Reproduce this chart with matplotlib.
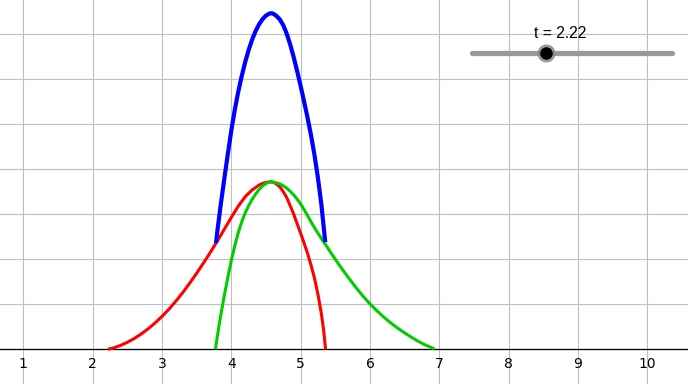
import matplotlib
matplotlib.use("Agg")
import matplotlib.pyplot as plt

# ---- data ----
red_x = [2.22, 2.3, 2.4, 2.5, 2.6, 2.7, 2.8, 2.9, 3.0, 3.1, 3.2, 3.3, 3.4, 3.5, 3.6, 3.7,
         3.8, 3.9, 4.0, 4.1, 4.2, 4.3, 4.4, 4.45, 4.5, 4.55, 4.57, 4.6, 4.65, 4.7, 4.75,
         4.8, 4.85, 4.9, 4.95, 5.0, 5.05, 5.1, 5.15, 5.2, 5.25, 5.3, 5.33, 5.36]
red_y = [0.0, 0.03, 0.085, 0.155, 0.24, 0.34, 0.455, 0.585, 0.73, 0.89, 1.07, 1.26, 1.47, 1.69, 1.92, 2.16,
         2.41, 2.67, 2.93, 3.18, 3.39, 3.54, 3.65, 3.685, 3.708, 3.719, 3.72, 3.715, 3.675, 3.61, 3.50,
         3.37, 3.19, 3.00, 2.79, 2.58, 2.36, 2.13, 1.87, 1.58, 1.22, 0.78, 0.45, 0.0]

green_x = [3.77, 3.8, 3.83, 3.86, 3.9, 3.95, 4.0, 4.05, 4.1, 4.15, 4.2, 4.25, 4.3, 4.35, 4.4,
           4.45, 4.5, 4.55, 4.57, 4.6, 4.65, 4.7, 4.75, 4.8, 4.85, 4.9, 4.95, 5.0, 5.05, 5.1,
           5.2, 5.3, 5.4, 5.5, 5.6, 5.7, 5.8, 5.9, 6.0, 6.1, 6.2, 6.3, 6.4, 6.5, 6.6, 6.7,
           6.8, 6.9, 6.93]
green_y = [0.0, 0.30, 0.59, 0.86, 1.2, 1.60, 1.97, 2.30, 2.59, 2.83, 3.03, 3.19, 3.33, 3.45, 3.55,
           3.63, 3.685, 3.715, 3.72, 3.715, 3.70, 3.675, 3.635, 3.58, 3.51, 3.43, 3.335, 3.23, 3.105, 2.97,
           2.70, 2.46, 2.23, 2.0, 1.78, 1.57, 1.37, 1.18, 1.01, 0.855, 0.715, 0.585, 0.47, 0.365, 0.265, 0.175,
           0.095, 0.03, 0.0]

blue_x = [3.78, 3.8, 3.85, 3.9, 3.95, 4.0, 4.05, 4.1, 4.15, 4.2, 4.25, 4.3, 4.35, 4.4, 4.45,
          4.5, 4.55, 4.58, 4.6, 4.65, 4.7, 4.75, 4.8, 4.85, 4.9, 4.95, 5.0, 5.05, 5.1, 5.15,
          5.2, 5.25, 5.3, 5.355]
blue_y = [2.36, 2.64, 3.24, 3.80, 4.34, 4.86, 5.32, 5.72, 6.07, 6.38, 6.65, 6.88, 7.07, 7.22, 7.335,
          7.415, 7.46, 7.468, 7.46, 7.41, 7.33, 7.20, 7.01, 6.77, 6.49, 6.18, 5.85, 5.505, 5.145, 4.755,
          4.315, 3.805, 3.205, 2.38]

x_ticks = [1, 2, 3, 4, 5, 6, 7, 8, 9, 10]
x_tick_labels = ["1", "2", "3", "4", "5", "6", "7", "8", "9", "10"]
y_grid = [0, 1, 2, 3, 4, 5, 6, 7]

t_value = 2.22
t_min, t_max = 0.0, 6.0
slider_label = "t = 2.22"

# ---- figure ----
W, H = 688, 384
fig = plt.figure(figsize=(W / 100, H / 100), dpi=100)
ax = fig.add_axes([0, 0, 1, 1])
ax.set_xlim(0.664, 10.587)
ax.set_ylim(-0.771, 7.762)

grid_col = "#c0c0c0"
ax.set_xticks(x_ticks)
ax.set_xticklabels(x_tick_labels, fontfamily="Liberation Sans", fontsize=9, color="#000000")
ax.set_yticks(y_grid)
ax.set_yticklabels([])
ax.grid(True, color=grid_col, linewidth=0.8)
ax.set_axisbelow(True)
ax.tick_params(axis="x", length=0, pad=5.5)
ax.tick_params(axis="y", length=0)
for s in ["top", "right", "left"]:
    ax.spines[s].set_visible(False)
ax.spines["bottom"].set_position(("data", 0))
ax.spines["bottom"].set_color("black")
ax.spines["bottom"].set_linewidth(0.9)
ax.spines["bottom"].set_zorder(1.5)

ax.plot(red_x, red_y, color="#ff0000", lw=2.2, solid_capstyle="butt",
        solid_joinstyle="round", zorder=3)
ax.plot(green_x, green_y, color="#00cc00", lw=2.2, solid_capstyle="butt",
        solid_joinstyle="round", zorder=4)
ax.plot(blue_x, blue_y, color="#0000ff", lw=3.0, solid_capstyle="butt",
        solid_joinstyle="round", zorder=5)

# ---- slider overlay (pixel coordinates) ----
ov = fig.add_axes([0, 0, 1, 1], facecolor="none")
ov.set_xlim(0, W)
ov.set_ylim(H, 0)
ov.axis("off")
sx0, sx1, sy = 472, 672, 53.3
ov.plot([sx0, sx1], [sy, sy], color="#999999", lw=3.8, solid_capstyle="round")
kx = sx0 + (t_value - t_min) / (t_max - t_min) * (sx1 - sx0)
ov.plot([kx], [sy], marker="o", markersize=13, color="#808080", alpha=0.8, markeredgewidth=0)
ov.plot([kx], [sy], marker="o", markersize=9, color="#000000", markeredgewidth=0)
ov.text(560.3, 38.3, slider_label, ha="center", va="baseline",
        fontfamily="Liberation Sans", fontsize=11.3, color="#000000")

fig.savefig("out.png", dpi=100)
